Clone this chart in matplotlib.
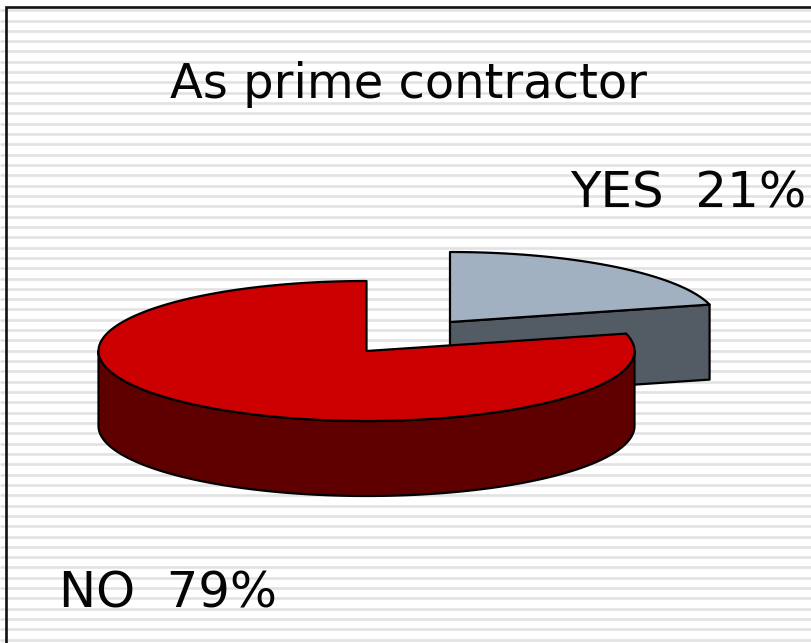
import numpy as np
import matplotlib
matplotlib.use("Agg")
import matplotlib.pyplot as plt

categories = ["YES", "NO"]
shares = [21, 79]
top_colors = ["#A2B1C1", "#CC0000"]
side_colors = ["#535B64", "#5E0000"]
title = "As prime contractor"

W, H = 812, 643
fig = plt.figure(figsize=(W / 100, H / 100), dpi=100, facecolor="white")
ax = fig.add_axes([0, 0, 1, 1])
ax.set_xlim(0, W)
ax.set_ylim(H, 0)
ax.axis("off")

# striped background and frame
ax.hlines(np.arange(10.2, H, 10.32), 0, W, color="#E2E2E2", lw=1.9, zorder=0,
          antialiased=True)
ax.plot([6.5, 6.5, W], [H, 6.5, 6.5], color="#111111", lw=1.9, zorder=1,
        solid_joinstyle="miter")

RX, RY, DEPTH = 268, 70, 75
EDGE = dict(edgecolor="black", linewidth=1.6, joinstyle="round")


def rim(cx, cy, a0, a1, dy=0):
    t = np.radians(np.linspace(a0, a1, 200))
    return cx + RX * np.sin(t), cy - RY * np.cos(t) + dy


angles = np.cumsum([0] + shares) * 3.6

# YES slice, pulled out to the upper right
cx, cy = 450, 322
a0, a1 = angles[0], angles[1]
ex, ey = rim(cx, cy, a1, a1)
ax.fill([cx, ex[-1], ex[-1], cx], [cy, ey[-1], ey[-1] + DEPTH, cy + DEPTH],
        facecolor=side_colors[0], zorder=2, **EDGE)
x, y = rim(cx, cy, a0, a1)
ax.fill(np.r_[cx, x], np.r_[cy, y], facecolor=top_colors[0], zorder=3, **EDGE)

# NO slice
cx, cy = 366.5, 351
a0, a1 = angles[1], angles[2]
x, y = rim(cx, cy, 90, 270)
ax.fill(np.r_[x, x[::-1]], np.r_[y, y[::-1] + DEPTH],
        facecolor=side_colors[1], zorder=4, **EDGE)
x, y = rim(cx, cy, a0, a1)
ax.fill(np.r_[cx, x], np.r_[cy, y], facecolor=top_colors[1], zorder=5, **EDGE)

# text
font = dict(family="DejaVu Sans", color="#050505", zorder=6)
ax.text(170, 98.5, title, ha="left", va="baseline", fontsize=34.6, **font)
ax.text(570, 207, f"{categories[0]}  {shares[0]}%", ha="left", va="baseline",
        fontsize=35.9, **font)
ax.text(59, 608, f"{categories[1]}  {shares[1]}%", ha="left", va="baseline",
        fontsize=35.7, **font)

fig.savefig("out.png", dpi=100, facecolor="white")
